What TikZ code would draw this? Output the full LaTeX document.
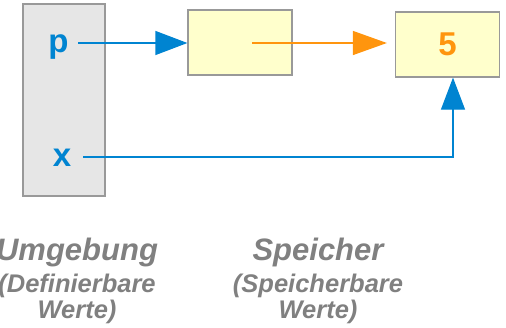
\documentclass[tikz,border=0pt]{standalone}
\usepackage{fontspec}
\setmainfont{Liberation Sans}
\usetikzlibrary{arrows.meta}
\definecolor{bl}{HTML}{0084D1}
\definecolor{orn}{HTML}{FF950E}
\definecolor{yel}{HTML}{FFFFCC}
\definecolor{gr}{HTML}{E6E6E6}
\definecolor{bd}{HTML}{999999}
\definecolor{tx}{HTML}{808080}
\begin{document}
\begin{tikzpicture}[x=1pt,y=-1pt,
  cell/.style={draw=bd,line width=1.2pt,fill=yel,minimum width=104pt,minimum height=65pt,inner sep=0pt},
  env/.style={draw=bd,line width=1.2pt,fill=gr,minimum width=82pt,minimum height=192pt,inner sep=0pt},
  var/.style={text=bl,font=\bfseries\fontsize{33}{33}\selectfont,inner sep=0pt},
  bigcap/.style={text=tx,inner sep=0pt,anchor=base,font=\bfseries\itshape\fontsize{31}{31}\selectfont},
  smallcap/.style={text=tx,inner sep=0pt,anchor=base,font=\bfseries\itshape\fontsize{25.5}{25.5}\selectfont},
  barr/.style={color=bl,line width=1.2pt,-{Triangle[length=32pt,width=24pt]}},
  oarr/.style={color=orn,line width=1.2pt,-{Triangle[length=34pt,width=24pt]}}]
\useasboundingbox (0,0) rectangle (506,327);
\node[env] (env) at (64,100) {};
\node[cell] (c1) at (240,42.5) {};
\node[cell] (c2) at (447.5,44.5) {\textcolor{orn}{\bfseries\fontsize{33}{33}\selectfont 5}};
\node[var,anchor=base] (p) at (58.5,52) {p};
\node[var,anchor=base] (x) at (62,166) {x};
\coordinate (o1) at (252,43);
\coordinate (k) at (453,157);
\coordinate (ps) at (78,43);
\coordinate (xs) at (83,157);
\draw[barr] (ps) -- (c1.west |- ps);
\draw[oarr] (o1) -- ([xshift=-8pt]c2.west |- o1);
\draw[barr] (xs) -- (k) -- (k |- c2.south);
\node[bigcap] (u) at (77,260) {Umgebung};
\node[smallcap] (u2) at (77,292) {(Definierbare};
\node[smallcap] (u3) at (77,318) {Werte)};
\node[bigcap] (s) at (318,260) {Speicher};
\node[smallcap] (s2) at (318,292) {(Speicherbare};
\node[smallcap] (s3) at (318,318) {Werte)};
\end{tikzpicture}
\end{document}
